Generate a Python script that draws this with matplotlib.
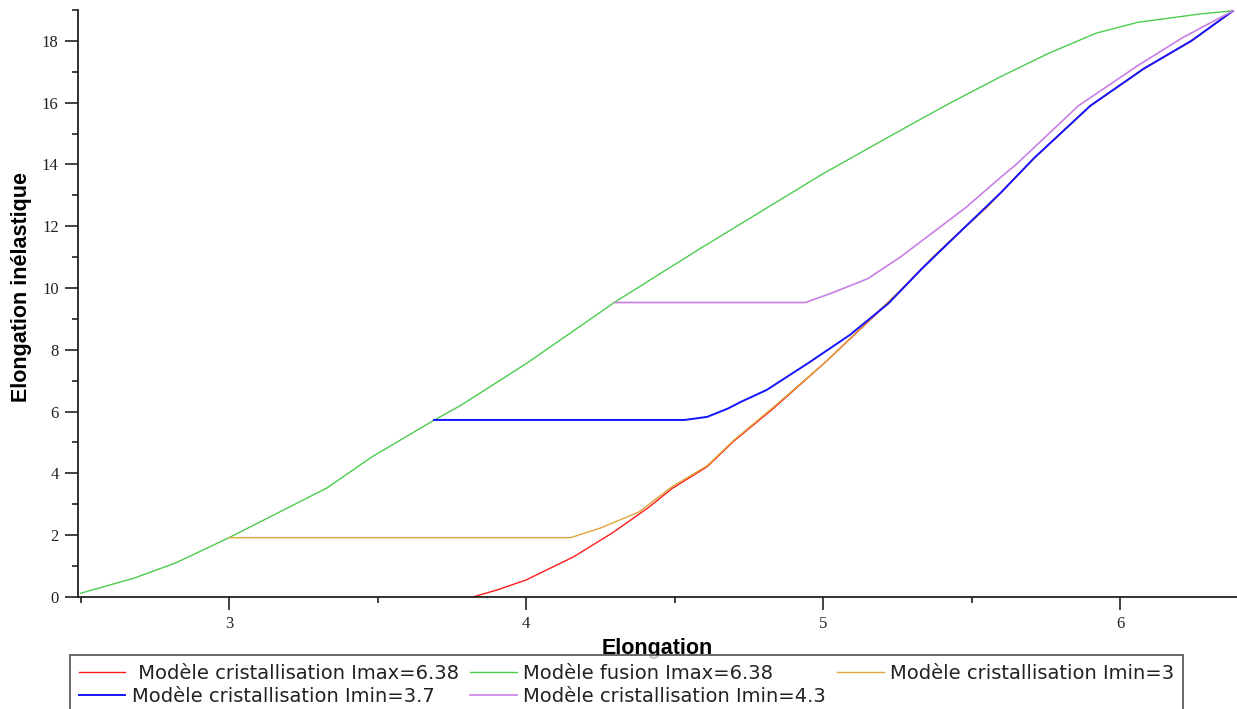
import matplotlib
matplotlib.use("Agg")
import matplotlib.pyplot as plt
from matplotlib.ticker import MultipleLocator

# courbes (Elongation, Elongation inélastique)
fus_x = [2.50, 2.68, 2.82, 3.00, 3.17, 3.33, 3.48, 3.69, 3.78, 4.00, 4.30, 4.59, 5.00,
         5.26, 5.43, 5.60, 5.76, 5.92, 6.06, 6.27, 6.38]
fus_y = [0.12, 0.61, 1.10, 1.92, 2.75, 3.53, 4.53, 5.72, 6.20, 7.55, 9.55, 11.3, 13.7,
         15.1, 16.0, 16.85, 17.6, 18.25, 18.6, 18.87, 18.97]

crist_max_x = [3.82, 3.90, 4.00, 4.16, 4.29, 4.41, 4.49, 4.61, 4.70, 4.83, 5.01, 5.12,
               5.26, 5.37, 5.47, 5.55, 5.71, 5.90, 6.08, 6.24, 6.38]
crist_max_y = [0.0, 0.22, 0.55, 1.30, 2.07, 2.88, 3.50, 4.22, 5.05, 6.08, 7.62, 8.62,
               9.90, 11.0, 11.9, 12.6, 14.2, 15.9, 17.1, 18.0, 18.97]

crist3_x = [3.00, 4.15, 4.25, 4.38, 4.49, 4.61, 4.70, 4.83, 5.01, 5.12, 5.26, 5.37,
            5.47, 5.55, 5.71, 5.90, 6.08, 6.24, 6.38]
crist3_y = [1.92, 1.92, 2.23, 2.75, 3.56, 4.25, 5.08, 6.12, 7.62, 8.64, 9.93, 11.0,
            11.9, 12.6, 14.2, 15.9, 17.1, 18.0, 18.97]

crist37_x = [3.69, 4.535, 4.61, 4.68, 4.72, 4.81, 4.95, 5.09, 5.22, 5.33, 5.47, 5.60,
             5.71, 5.90, 6.08, 6.24, 6.38]
crist37_y = [5.73, 5.73, 5.83, 6.10, 6.30, 6.70, 7.57, 8.48, 9.50, 10.6, 11.9, 13.1,
             14.2, 15.9, 17.1, 18.0, 18.97]

crist43_x = [4.30, 4.94, 5.03, 5.15, 5.26, 5.37, 5.48, 5.60, 5.65, 5.86, 6.06, 6.21, 6.38]
crist43_y = [9.53, 9.53, 9.84, 10.3, 11.0, 11.8, 12.6, 13.6, 14.0, 15.9, 17.2, 18.1, 18.97]

labels = [" Modèle cristallisation Imax=6.38", "Modèle fusion Imax=6.38",
          "Modèle cristallisation Imin=3", "Modèle cristallisation Imin=3.7",
          "Modèle cristallisation Imin=4.3"]

fig = plt.figure(figsize=(12.37, 7.09), dpi=100)
ax = fig.add_axes([0.0631, 0.158, 0.937, 0.828])

l_red, = ax.plot(crist_max_x, crist_max_y, color="#ff1a1a", lw=1.0)
l_green, = ax.plot(fus_x, fus_y, color="#4ccc4c", lw=1.0)
l_orange, = ax.plot(crist3_x, crist3_y, color="#e0a63c", lw=1.0)
l_blue, = ax.plot(crist37_x, crist37_y, color="#1414ff", lw=1.4)
l_mag, = ax.plot(crist43_x, crist43_y, color="#c97ee6", lw=1.2)

ax.set_xlim(2.4916, 6.394)
ax.set_ylim(0, 19.0)
ax.xaxis.set_major_locator(MultipleLocator(1))
ax.xaxis.set_minor_locator(MultipleLocator(0.5))
ax.yaxis.set_major_locator(MultipleLocator(2))
ax.yaxis.set_minor_locator(MultipleLocator(1))
for s in ("top", "right"):
    ax.spines[s].set_visible(False)
for s in ("left", "bottom"):
    ax.spines[s].set_color("#222222"); ax.spines[s].set_linewidth(1.3)
ax.tick_params(which="major", length=9.5, width=1.2, color="#222222", pad=4.5)
ax.tick_params(which="minor", length=4.5, width=1.2, color="#222222")
for t in ax.get_xticklabels() + ax.get_yticklabels():
    t.set_fontfamily("Liberation Serif"); t.set_fontsize(12); t.set_color("#222222")

ax.set_xlabel("Elongation", fontsize=15.5, fontweight="bold", family="Liberation Sans")
ax.set_ylabel("Elongation inélastique", fontsize=15.5, fontweight="bold", family="Liberation Sans")
ax.xaxis.set_label_coords(0.5, -0.07)
ax.yaxis.set_label_coords(-0.04, 0.528)

# ordre en colonnes pour obtenir les lignes de la légende d'origine
handles = [l_red, l_blue, l_green, l_mag, l_orange]
hl = [labels[0], labels[3], labels[1], labels[4], labels[2]]
leg = fig.legend(handles, hl, loc="upper left", bbox_to_anchor=(70 / 1237, 1 - 655 / 709),
                 ncol=3, fancybox=False, borderaxespad=0, borderpad=0.45, labelspacing=0.2,
                 handlelength=2.4, handletextpad=0.35, columnspacing=0.55,
                 prop={"family": "DejaVu Sans", "size": 14})
leg.get_frame().set_edgecolor("#222222"); leg.get_frame().set_linewidth(1.2)
for t in leg.get_texts():
    t.set_color("#222222")

fig.savefig("out.png", dpi=100)
